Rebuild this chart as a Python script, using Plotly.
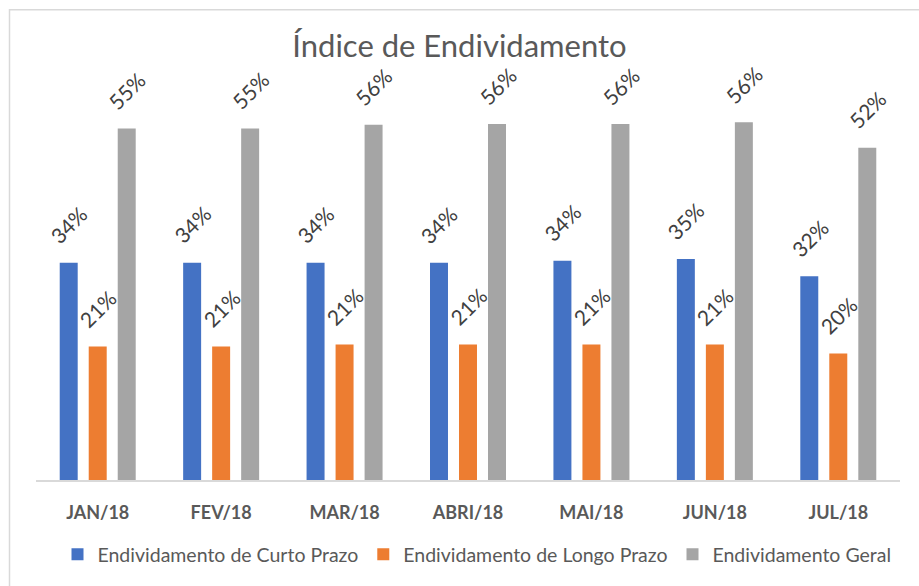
import plotly.graph_objects as go

categories = ["JAN/18", "FEV/18", "MAR/18", "ABRI/18", "MAI/18", "JUN/18", "JUL/18"]
curto_prazo = [0.340, 0.340, 0.340, 0.340, 0.343, 0.346, 0.319]
longo_prazo = [0.209, 0.209, 0.212, 0.212, 0.212, 0.212, 0.198]
geral = [0.550, 0.550, 0.556, 0.557, 0.557, 0.560, 0.520]

series = [
    ("Endividamento de Curto Prazo", curto_prazo, "#4472C4"),
    ("Endividamento de Longo Prazo", longo_prazo, "#ED7D31"),
    ("Endividamento Geral", geral, "#A5A5A5"),
]

FONT = "Lato, 'Open Sans', sans-serif"

fig = go.Figure()
for name, vals, color in series:
    fig.add_trace(go.Bar(
        x=categories, y=vals, name=name,
        marker=dict(color=color, line=dict(width=0)),
        hoverinfo="skip",
    ))

L, R, T, B = 36, 19, 60, 104
W, H = 919, 586
pw, ph = W - L - R, H - T - B
cat_w = pw / len(categories)
BARGAP = 0.295
slot = cat_w * (1 - BARGAP) / 3

# data labels as annotations, rotated, positioned through the axes
annotations = []
for i, (name, vals, color) in enumerate(series):
    offset = (i - 1) * slot
    for c, v in zip(categories, vals):
        annotations.append(dict(
            x=c, y=v, xref="x", yref="y",
            text=f"{round(v * 100):d}%",
            showarrow=False, textangle=-45,
            xanchor="center", yanchor="middle",
            xshift=offset, yshift=38,
            font=dict(family=FONT, size=21, color="#404040"),
        ))

def px_x(px):
    return (px - L) / pw

def px_y(py):
    return (H - B - py) / ph

fig.update_layout(
    width=W, height=H,
    margin=dict(l=L, r=R, t=T, b=B),
    paper_bgcolor="white", plot_bgcolor="white",
    barmode="group", bargap=BARGAP, bargroupgap=0.38,
    title=dict(text="Índice de Endividamento", x=0.5, xanchor="center",
               y=1 - 46 / H, yanchor="middle",
               font=dict(family=FONT, size=31, color="#595959")),
    xaxis=dict(showline=True, linecolor="#d9d9d9", linewidth=1.5,
               ticks="", showgrid=False, ticklabelstandoff=16,
               tickfont=dict(family=FONT, size=18, color="#595959", weight="bold")),
    yaxis=dict(visible=False, range=[0, ph / 642], showgrid=False, zeroline=False),
    legend=dict(orientation="h", x=px_x(477), xanchor="center",
                y=px_y(557), yanchor="middle",
                font=dict(family=FONT, size=19.5, color="#595959"),
                itemwidth=30, tracegroupgap=0),
    shapes=[dict(type="rect", xref="paper", yref="paper",
                 x0=px_x(9.5), x1=px_x(940), y0=px_y(620), y1=px_y(9.5),
                 line=dict(color="#d9d9d9", width=1.5), layer="below")],
    annotations=annotations,
    showlegend=True,
)

fig.write_html("out.html",
               config={"displayModeBar": False},
               post_script="document.body.style.margin='0';document.body.style.overflow='hidden';")
